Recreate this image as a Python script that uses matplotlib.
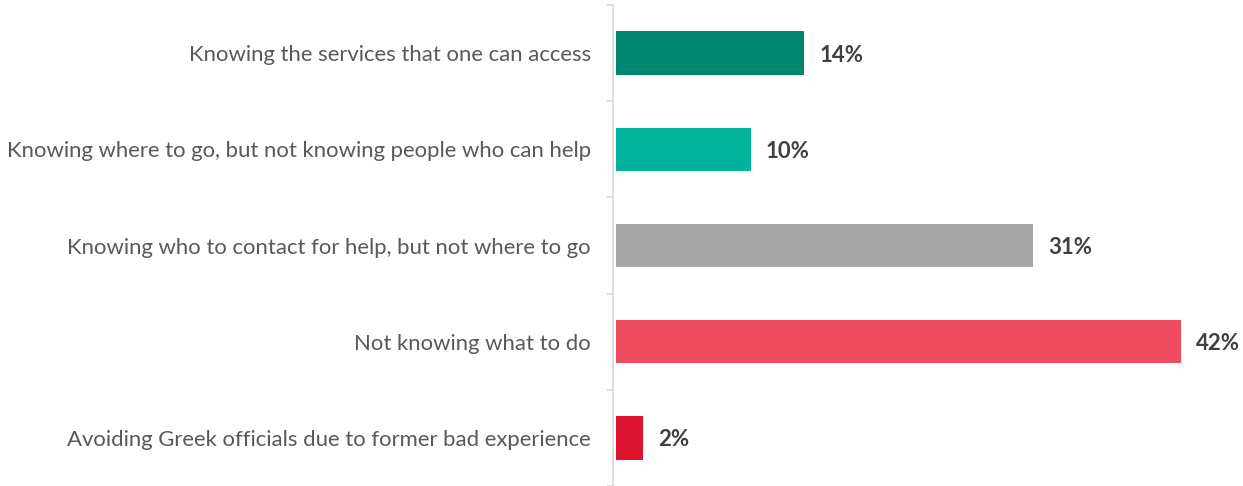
import matplotlib
matplotlib.use("Agg")
import matplotlib.pyplot as plt
from matplotlib.ticker import FixedLocator

categories = [
    "Knowing the services that one can access",
    "Knowing where to go, but not knowing people who can help",
    "Knowing who to contact for help, but not where to go",
    "Not knowing what to do",
    "Avoiding Greek officials due to former bad experience",
]
values = [14, 10, 31, 42, 2]
colors = ["#00876F", "#00B39A", "#A5A5A5", "#EF4B5E", "#DC1430"]

plt.rcParams["font.family"] = ["Lato", "DejaVu Sans"]

fig = plt.figure(figsize=(12.43, 4.86), dpi=100)
ax = fig.add_axes([613 / 1243, 0.0, 1 - 613 / 1243, 481 / 486])

pos = list(range(len(categories)))
ax.barh(pos, values, height=0.45, color=colors)

for y, v in zip(pos, values):
    ax.annotate(f"{v}%", (v, y), xytext=(11, -1.5), textcoords="offset points",
                va="center", ha="left", fontsize=16, fontweight="bold", color="#404040")

ax.set_ylim(len(categories) - 0.5, -0.5)
ax.set_xlim(-0.22, 46.6)
ax.set_yticks(pos)
ax.set_yticklabels(categories, fontsize=15.9, color="#595959")
ax.tick_params(axis="y", which="major", length=0, pad=16)
ax.yaxis.set_minor_locator(FixedLocator([i - 0.5 for i in range(len(categories) + 1)]))
ax.tick_params(axis="y", which="minor", length=4.5, width=1.2, color="#D9D9D9")
ax.set_xticks([])

for s in ["top", "right", "bottom"]:
    ax.spines[s].set_visible(False)
ax.spines["left"].set_color("#D9D9D9")
ax.spines["left"].set_linewidth(1.2)

fig.savefig("out.png", dpi=100)
